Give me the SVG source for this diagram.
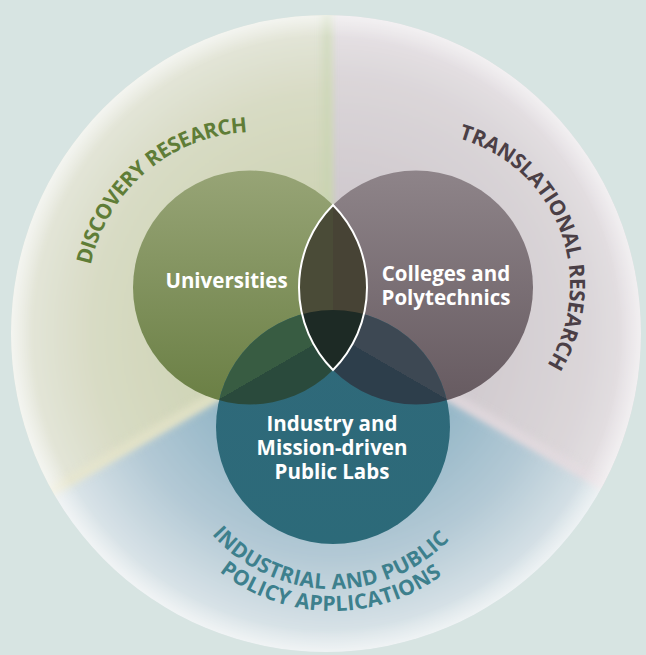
<svg xmlns="http://www.w3.org/2000/svg" width="646" height="655" viewBox="0 0 646 655">
<style>
.lbl{font-family:"Open Sans","Liberation Sans",Arial,sans-serif;font-weight:700;font-size:20.5px;fill:#ffffff;text-anchor:middle}
.arc{font-family:"Open Sans","Liberation Sans",Arial,sans-serif;font-weight:700;font-size:21px}
.disc{fill:#5f7d37}
.tran{fill:#4b3f46}
.ind{fill:#3d808d}
</style>
<defs>
 <clipPath id="bigClip"><ellipse cx="326" cy="333.5" rx="315" ry="318.5"/></clipPath>
 <clipPath id="cG"><circle cx="250" cy="287.5" r="117"/></clipPath>
 <clipPath id="cM"><circle cx="416" cy="287.5" r="117"/></clipPath>
 <clipPath id="cT"><circle cx="333" cy="427" r="117"/></clipPath>
 <filter id="soft" x="-10%" y="-10%" width="120%" height="120%"><feGaussianBlur stdDeviation="2.5"/></filter>
 <filter id="soft6" x="-10%" y="-10%" width="120%" height="120%"><feGaussianBlur stdDeviation="4"/></filter>
 <radialGradient id="gL" gradientUnits="userSpaceOnUse" cx="333" cy="333.5" r="320">
  <stop offset="0" stop-color="#c8cfab"/>
  <stop offset="0.4" stop-color="#ced4b5"/>
  <stop offset="0.75" stop-color="#d8dbc4"/>
  <stop offset="0.95" stop-color="#e3e5d8"/>
  <stop offset="1" stop-color="#eaece4"/>
 </radialGradient>
 <radialGradient id="gR" gradientUnits="userSpaceOnUse" cx="333" cy="333.5" r="320">
  <stop offset="0" stop-color="#c6bec4"/>
  <stop offset="0.5" stop-color="#d2ccd0"/>
  <stop offset="0.8" stop-color="#dbd6d9"/>
  <stop offset="1" stop-color="#e9e5e8"/>
 </radialGradient>
 <radialGradient id="gB" gradientUnits="userSpaceOnUse" cx="333" cy="333.5" r="320">
  <stop offset="0" stop-color="#7aa6bb"/>
  <stop offset="0.4" stop-color="#92b5c6"/>
  <stop offset="0.7" stop-color="#b3c9d5"/>
  <stop offset="0.92" stop-color="#d6e1e6"/>
  <stop offset="1" stop-color="#e4eaec"/>
 </radialGradient>
 <radialGradient id="rim" cx="0.5" cy="0.5" r="0.5">
  <stop offset="0.93" stop-color="#ffffff" stop-opacity="0"/>
  <stop offset="1" stop-color="#ffffff" stop-opacity="0.45"/>
 </radialGradient>
 <linearGradient id="fG" x1="0" y1="0" x2="0" y2="1">
  <stop offset="0" stop-color="#97a476"/><stop offset="1" stop-color="#6a7f44"/>
 </linearGradient>
 <linearGradient id="fM" x1="0" y1="0" x2="0" y2="1">
  <stop offset="0" stop-color="#8e8489"/><stop offset="1" stop-color="#665a60"/>
 </linearGradient>
 <linearGradient id="fT" x1="0" y1="0" x2="0" y2="1">
  <stop offset="0" stop-color="#30697a"/><stop offset="1" stop-color="#2c6a79"/>
 </linearGradient>
 <linearGradient id="oGT" gradientUnits="userSpaceOnUse" x1="328" y1="324.84" x2="338" y2="342.16">
  <stop offset="0.5" stop-color="#385c42"/><stop offset="0.5" stop-color="#2a4a3c"/>
 </linearGradient>
 <linearGradient id="oMT" gradientUnits="userSpaceOnUse" x1="338" y1="324.84" x2="328" y2="342.16">
  <stop offset="0.5" stop-color="#3d4853"/><stop offset="0.5" stop-color="#2d3e4b"/>
 </linearGradient>
 <linearGradient id="oGM" gradientUnits="userSpaceOnUse" x1="332" y1="0" x2="334" y2="0">
  <stop offset="0.5" stop-color="#4a4b37"/><stop offset="0.5" stop-color="#474335"/>
 </linearGradient>
 <path id="pDisc" d="M90.7,265.1 A168,168 0 0 1 247.7,132.2"/>
 <path id="pTran" d="M458.6,138.5 A152,152 0 0 1 546.9,365.5"/>
 <path id="pInd1" d="M211.7,534.3 A162,162 0 0 0 449.8,539.3"/>
 <path id="pInd2" d="M219.5,571.8 A184,184 0 0 0 442.4,574.9"/>
</defs>

<rect id="page" x="0" y="0" width="646" height="655" fill="#d7e4e2"/>

<g id="sectors" clip-path="url(#bigClip)">
 <g filter="url(#soft)">
  <polygon points="333,333.5 333,-50 -200,-50 -200,641.2" fill="url(#gL)"/>
  <polygon points="333,333.5 333,-50 900,-50 900,660.9" fill="url(#gR)"/>
  <polygon points="333,333.5 -200,641.2 -200,900 900,900 900,660.9" fill="url(#gB)"/>
 </g>
 <g filter="url(#soft6)" opacity="0.7">
  <line x1="327" y1="0" x2="327" y2="330" stroke="#c3d3ad" stroke-width="6"/>
  <line x1="331" y1="330" x2="-102" y2="580" stroke="#e9e7cc" stroke-width="10"/>
  <line x1="335" y1="330" x2="768" y2="580" stroke="#e6dde2" stroke-width="10"/>
 </g>
 <ellipse cx="326" cy="333.5" rx="315" ry="318.5" fill="url(#rim)"/>
</g>

<g id="sector-labels">
 <g id="label-discovery"><text class="arc disc"><textPath href="#pDisc" textLength="221" lengthAdjust="spacing">DISCOVERY RESEARCH</textPath></text></g>
 <g id="label-translational"><text class="arc tran"><textPath href="#pTran" textLength="282" lengthAdjust="spacing">TRANSLATIONAL RESEARCH</textPath></text></g>
 <g id="label-industrial">
  <text class="arc ind"><textPath href="#pInd1" textLength="267" lengthAdjust="spacing">INDUSTRIAL AND PUBLIC</textPath></text>
  <text class="arc ind"><textPath href="#pInd2" textLength="239" lengthAdjust="spacing">POLICY APPLICATIONS</textPath></text>
 </g>
</g>

<g id="node-universities">
 <circle cx="250" cy="287.5" r="117" fill="url(#fG)"/>
 <text class="lbl" x="226.5" y="287.5">Universities</text>
</g>
<g id="node-colleges">
 <circle cx="416" cy="287.5" r="117" fill="url(#fM)"/>
 <text class="lbl" x="446" y="281">Colleges and</text>
 <text class="lbl" x="446" y="304.5">Polytechnics</text>
</g>
<g id="node-industry">
 <circle cx="333" cy="427" r="117" fill="url(#fT)"/>
 <text class="lbl" x="332" y="431">Industry and</text>
 <text class="lbl" x="332" y="455">Mission-driven</text>
 <text class="lbl" x="332" y="478.5">Public Labs</text>
</g>

<g id="connectors">
 <circle cx="333" cy="427" r="117" clip-path="url(#cG)" fill="url(#oGT)"/>
 <circle cx="333" cy="427" r="117" clip-path="url(#cM)" fill="url(#oMT)"/>
 <circle cx="416" cy="287.5" r="117" clip-path="url(#cG)" fill="url(#oGM)"/>
 <g clip-path="url(#cG)"><circle cx="416" cy="287.5" r="117" clip-path="url(#cT)" fill="#1d2a25"/></g>
 <path d="M333,205.04 A117,117 0 0 1 333,369.96 A117,117 0 0 1 333,205.04 Z" fill="none" stroke="#ffffff" stroke-width="2"/>
</g>
</svg>
